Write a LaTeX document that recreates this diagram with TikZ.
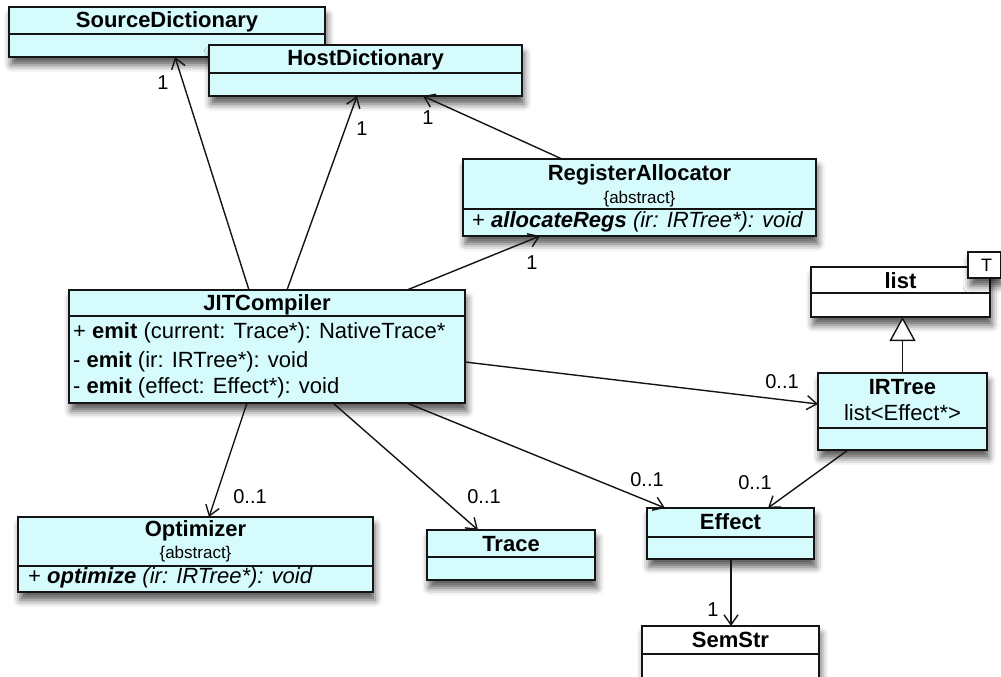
\documentclass[tikz,border=0pt]{standalone}
\usepackage{fontspec}
\setmainfont{Liberation Sans}
\usetikzlibrary{arrows.meta,shadows.blur}
\definecolor{umlfill}{RGB}{214,251,253}
\definecolor{umlline}{RGB}{20,20,20}
\begin{document}
\begin{tikzpicture}[x=1pt,y=-1pt,
  clsbox/.style={draw=umlline, line width=1.7pt, fill=umlfill, inner sep=0pt, outer sep=0pt, anchor=north west,
    blur shadow={shadow xshift=2pt, shadow yshift=-8pt, shadow blur radius=7pt, shadow opacity=65}},
  whitebox/.style={clsbox, fill=white},
  divline/.style={draw=umlline, line width=1.4pt},
  clsname/.style={font=\fontsize{22}{26}\selectfont\bfseries, inner sep=0pt},
  stereotype/.style={font=\fontsize{17}{19}\selectfont, inner sep=0pt},
  memberline/.style={font=\fontsize{22}{26}\selectfont, inner sep=0pt, anchor=west},
  multlabel/.style={font=\fontsize{20}{24}\selectfont, inner sep=0pt},
  assocline/.style={draw=umlline, line width=1.4pt, -{Straight Barb[length=10pt,width=14pt,line width=1.4pt]}},
  inheritline/.style={draw=umlline, line width=1.4pt, -{Triangle[open,length=24pt,width=26pt,line width=1.4pt,fill=white]}},
]
\useasboundingbox (0,0) rectangle (1001,677);

% ---------- classes ----------
\node[clsbox, minimum width=316pt, minimum height=50pt] (src) at (9,7) {};
\draw[divline] ([yshift=-27pt]src.north west) -- ([yshift=-27pt]src.north east);
\node[clsname] (srcN) at ([yshift=-15pt]src.north) {SourceDictionary};

\node[clsbox, minimum width=313pt, minimum height=51pt] (host) at (209,45) {};
\draw[divline] ([yshift=-28pt]host.north west) -- ([yshift=-28pt]host.north east);
\node[clsname] (hostN) at ([yshift=-15pt]host.north) {HostDictionary};

\node[clsbox, minimum width=353pt, minimum height=77pt] (reg) at (463,159) {};
\draw[divline] ([yshift=-50pt]reg.north west) -- ([yshift=-50pt]reg.north east);
\node[clsname] (regN) at ([yshift=-16pt]reg.north) {RegisterAllocator};
\node[stereotype] (regS) at ([yshift=-40pt]reg.north) {\{abstract\}};
\node[memberline] (regM) at ([xshift=9pt,yshift=-63pt]reg.north west)
  {+ \textbf{\textit{allocateRegs}} \textit{(ir: IRTree*): void}};

\node[clsbox, minimum width=396pt, minimum height=113pt] (jit) at (69,290) {};
\draw[divline] ([yshift=-26pt]jit.north west) -- ([yshift=-26pt]jit.north east);
\node[clsname] (jitN) at ([yshift=-15pt]jit.north) {JITCompiler};
\node[memberline] (jitA) at ([xshift=4pt,yshift=-43pt]jit.north west)
  {+ \textbf{emit} (current: Trace*): NativeTrace*};
\node[memberline] (jitB) at ([xshift=4pt,yshift=-72pt]jit.north west)
  {- \textbf{emit} (ir: IRTree*): void};
\node[memberline] (jitC) at ([xshift=4pt,yshift=-98pt]jit.north west)
  {- \textbf{emit} (effect: Effect*): void};

\node[whitebox, minimum width=179pt, minimum height=50pt] (list) at (811,267) {};
\draw[divline] ([yshift=-26pt]list.north west) -- ([yshift=-26pt]list.north east);
\node[clsname] (listN) at ([yshift=-14pt]list.north) {list};
\node[whitebox, minimum width=33pt, minimum height=26pt] (tab) at (968,252) {};
\node[memberline, anchor=center, font=\fontsize{18}{20}\selectfont] (tabT) at ([xshift=2pt]tab.center) {T};

\node[clsbox, minimum width=169pt, minimum height=77pt] (irtree) at (818,373) {};
\draw[divline] ([yshift=-55pt]irtree.north west) -- ([yshift=-55pt]irtree.north east);
\node[clsname] (irN) at ([yshift=-14pt]irtree.north) {IRTree};
\node[memberline, anchor=center] (irL) at ([yshift=-40pt]irtree.north) {list<Effect*>};

\node[clsbox, minimum width=355pt, minimum height=75pt] (opt) at (18,517) {};
\draw[divline] ([yshift=-49pt]opt.north west) -- ([yshift=-49pt]opt.north east);
\node[clsname] (optN) at ([yshift=-14pt]opt.north) {Optimizer};
\node[stereotype] (optS) at ([yshift=-37pt]opt.north) {\{abstract\}};
\node[memberline] (optM) at ([xshift=10pt,yshift=-61pt]opt.north west)
  {+ \textbf{\textit{optimize}} \textit{(ir: IRTree*): void}};

\node[clsbox, minimum width=168pt, minimum height=50pt] (trace) at (427,530) {};
\draw[divline] ([yshift=-27pt]trace.north west) -- ([yshift=-27pt]trace.north east);
\node[clsname] (traceN) at ([yshift=-14pt]trace.north) {Trace};

\node[clsbox, minimum width=167pt, minimum height=51pt] (effect) at (647,508) {};
\draw[divline] ([yshift=-29pt]effect.north west) -- ([yshift=-29pt]effect.north east);
\node[clsname] (effN) at ([yshift=-14pt]effect.north) {Effect};

\node[whitebox, minimum width=177pt, minimum height=52pt] (semstr) at (642,626) {};
\draw[divline] ([yshift=-28pt]semstr.north west) -- ([yshift=-28pt]semstr.north east);
\node[clsname] (semN) at ([yshift=-14pt]semstr.north) {SemStr};

% ---------- associations ----------
\draw[assocline] ([xshift=180pt]jit.north west) -- ([xshift=166pt]src.south west);
\draw[assocline] ([xshift=218pt]jit.north west) -- ([xshift=148pt]host.south west);
\draw[assocline] ([xshift=99pt]reg.north west) -- ([xshift=214pt]host.south west);
\draw[assocline] ([xshift=338pt]jit.north west) -- ([xshift=77pt]reg.south west);
\draw[assocline] ([yshift=-72pt]jit.north east) -- ([yshift=-31pt]irtree.north west);
\draw[assocline] ([xshift=178pt]jit.south west) -- ([xshift=191pt]opt.north west);
\draw[assocline] ([xshift=264pt]jit.south west) -- ([xshift=51pt]trace.north west);
\draw[assocline] ([xshift=338pt]jit.south west) -- ([xshift=18pt]effect.north west);
\draw[assocline] ([xshift=30pt]irtree.south west) -- ([xshift=121pt]effect.north west);
\draw[assocline] ([xshift=84pt]effect.south west) -- ([xshift=89pt]semstr.north west);

% ---------- generalisation ----------
\draw[inheritline] (irtree.north) -- (irtree.north |- list.south);

% ---------- multiplicities ----------
\node[multlabel] (m1) at (163,83) {1};
\node[multlabel] (m2) at (362,129) {1};
\node[multlabel] (m3) at (428,118) {1};
\node[multlabel] (m4) at (532,263) {1};
\node[multlabel] (m5) at (782,382) {0..1};
\node[multlabel] (m6) at (250,497) {0..1};
\node[multlabel] (m7) at (484,497) {0..1};
\node[multlabel] (m8) at (647,480) {0..1};
\node[multlabel] (m9) at (755,483) {0..1};
\node[multlabel] (m10) at (713,610) {1};
\end{tikzpicture}
\end{document}
